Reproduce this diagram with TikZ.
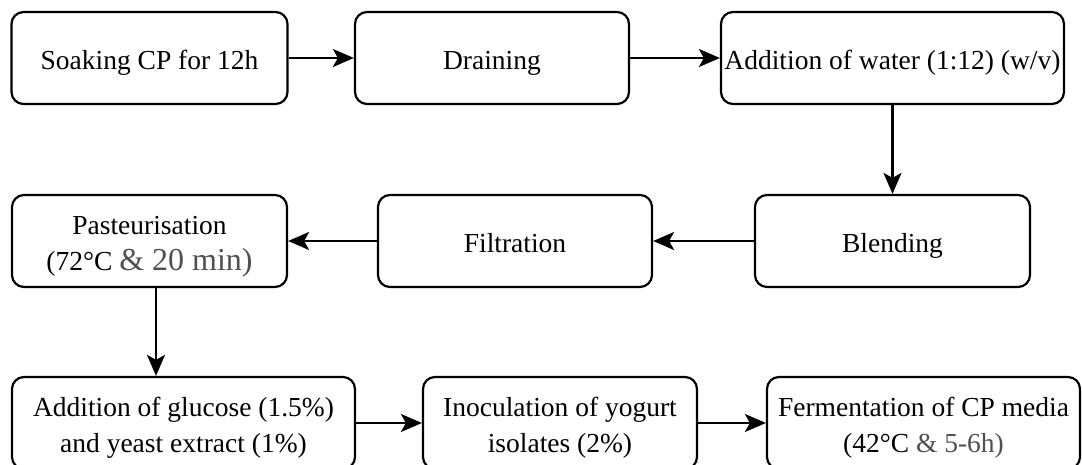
\documentclass[tikz,border=0pt]{standalone}
\usepackage{fontspec}
\setmainfont{Liberation Serif}
\usetikzlibrary{arrows.meta}
\definecolor{greytxt}{HTML}{505050}
\newcommand\boxtext[1]{\raisebox{-4pt}[\height][\depth]{\begin{tabular}{@{}c@{}}#1\end{tabular}}}
\begin{document}
\begin{tikzpicture}[x=1pt,y=-1pt,
  box/.style={draw=black, line width=2.2pt, rounded corners=12pt, minimum height=92pt,
    inner sep=0pt, font=\fontsize{27.5}{36}\selectfont},
  arr/.style={line width=2.2pt, -{Stealth[length=21pt,width=18pt,inset=5pt]}}]
\useasboundingbox (0,0) rectangle (1082,465);
\clip (0,0) rectangle (1082,465);
\node[box, minimum width=276pt] (soak) at (149.5,58) {\boxtext{Soaking CP for 12h}};
\node[box, minimum width=274pt] (drain) at (492,58) {\boxtext{Draining}};
\node[box, minimum width=343pt] (water) at (892.5,58) {\boxtext{Addition of water (1:12) (w/v)}};
\node[box, minimum width=275pt] (blend) at (892.5,241) {\boxtext{Blending}};
\node[box, minimum width=274pt] (filt) at (515,241) {\boxtext{Filtration}};
\node[box, minimum width=275pt] (past) at (149.5,241) {\boxtext{Pasteurisation\\(72°C {\color{greytxt}\fontsize{32}{36}\selectfont\& 20 min)}}};
\node[box, minimum width=343pt] (gluc) at (183.5,423) {\boxtext{Addition of glucose (1.5\%)\\and yeast extract (1\%)}};
\node[box, minimum width=274pt] (inoc) at (560,423) {\boxtext{Inoculation of yogurt\\isolates (2\%)}};
\node[box, minimum width=313pt] (ferm) at (923.5,423) {\boxtext{Fermentation of CP media\\(42°C {\color{greytxt}\& 5-6h)}}};
\draw[arr] (soak) -- (drain);
\draw[arr] (drain) -- (water);
\draw[arr] (water) -- (blend);
\draw[arr] (blend) -- (filt);
\draw[arr] (filt) -- (past);
\draw[arr] ([xshift=6.5pt]past.south) -- ([xshift=6.5pt]past.south |- gluc.north);
\draw[arr] (gluc) -- (inoc);
\draw[arr] (inoc) -- (ferm);
\end{tikzpicture}
\end{document}
